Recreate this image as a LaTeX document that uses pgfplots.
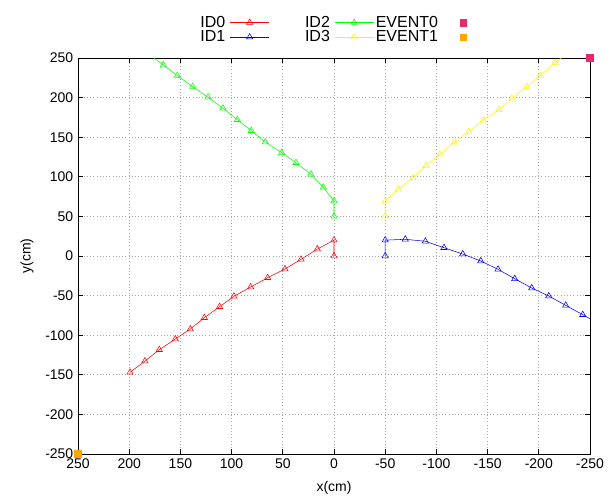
\documentclass[border=0pt]{standalone}
\usepackage{pgfplots}
\pgfplotsset{compat=1.18}
\usepackage{fontspec}
\setmainfont{Liberation Sans}
\definecolor{evpink}{RGB}{233,40,110}
\definecolor{evorange}{RGB}{255,165,0}
\begin{document}
\begin{tikzpicture}
\begin{axis}[
scale only axis,
width=384pt, height=297pt,
x dir=reverse,
xmin=-250, xmax=250, ymin=-250, ymax=250,
xtick distance=50, ytick distance=50,
/pgf/number format/assume math mode=true,
font=\fontsize{10.5}{12}\selectfont,
tick label style={font=\fontsize{10.5}{12}\selectfont},
xlabel={x(cm)}, ylabel={y(cm)},
xlabel style={yshift=-3pt},
ylabel style={yshift=2pt},
grid=major,
major grid style={gray!70, dotted, line width=0.6pt},
axis line style={black, line width=0.6pt},
tick style={black, line width=0.6pt},
tick align=inside,
major tick length=4pt,
every plot/.append style={line width=0.6pt},
mark size=2.7pt,
legend columns=3,
legend plot pos=right,
legend cell align=right,
legend image code/.code={\draw[mark indices={2}] plot coordinates {(0pt,0pt) (14.5pt,0pt) (29pt,0pt)};},
legend style={draw=none, fill=none, at={(0.466,1)}, anchor=south, yshift=7pt,
  font=\fontsize{12}{13}\selectfont, row sep=-2pt,
  nodes={text width=44pt, align=right, inner sep=1.5pt},
  /tikz/every odd column/.append style={column sep=2pt}},
]
\addplot[red, mark=triangle, mark indices={1,...,15}] coordinates {
(0,0)(0,20)(16.3,8.8)(32.2,-4.2)(47.9,-16.4)(64.8,-27.4)(81.4,-39.1)(97.7,-50.9)
(111.7,-64.0)(126.7,-77.9)(140.3,-92.2)(155.0,-104.8)(170.6,-118.3)(184.6,-132.6)(199.2,-146.9)};
\addlegendentry{ID0}
\addplot[green, mark=triangle, mark indices={1,...,14}] coordinates {
(0,50)(0,69.4)(10.4,86.7)(22.5,103.1)(37.1,117.8)(51.1,130.4)(67.1,143.9)(80.8,158.2)
(94.4,172.1)(108.4,186.5)(123.0,200.4)(138.0,213.8)(153.0,227.7)(166.7,241.2)(180.7,254.7)};
\addlegendentry{ID2}
\addplot[only marks, mark=square*, mark size=2.5pt, evpink,
  legend image code/.code={\path[draw=none,fill=none] (0pt,0pt) -- (22pt,0pt); \draw plot coordinates {(18pt,0pt)};}] coordinates {(-250,250)};
\addlegendentry{EVENT0}
\addplot[blue, mark=triangle, mark indices={1,...,13}] coordinates {
(-50,0)(-50,20)(-69.6,21.1)(-89.2,18.6)(-107.4,10.5)(-125.7,2.5)(-143.3,-6.3)(-160.2,-16.8)
(-176.5,-28.7)(-193.1,-40.4)(-209.7,-50.5)(-226.3,-62.3)(-242.9,-74.1)(-259,-86)};
\addlegendentry{ID1}
\addplot[yellow, mark=triangle, mark indices={1,...,14}] coordinates {
(-50,50)(-50,69.4)(-62.8,84.2)(-77.1,98.9)(-89.8,114.0)(-103.5,128.4)(-117.5,143.6)(-131.5,157.0)
(-145.8,171.3)(-161.1,184.7)(-173.8,199.1)(-188.2,213.8)(-201.5,227.7)(-216.1,244.1)(-229,258)};
\addlegendentry{ID3}
\addplot[only marks, mark=square*, mark size=2.5pt, evorange,
  legend image code/.code={\path[draw=none,fill=none] (0pt,0pt) -- (22pt,0pt); \draw plot coordinates {(18pt,0pt)};}] coordinates {(250,-250)};
\addlegendentry{EVENT1}
\coordinate (sw) at (rel axis cs:0,0);
\coordinate (ne) at (rel axis cs:1,1);
\end{axis}
\path ([xshift=-58.5pt,yshift=-33.75pt]sw) rectangle ([xshift=18pt,yshift=43.5pt]ne);
\end{tikzpicture}
\end{document}
